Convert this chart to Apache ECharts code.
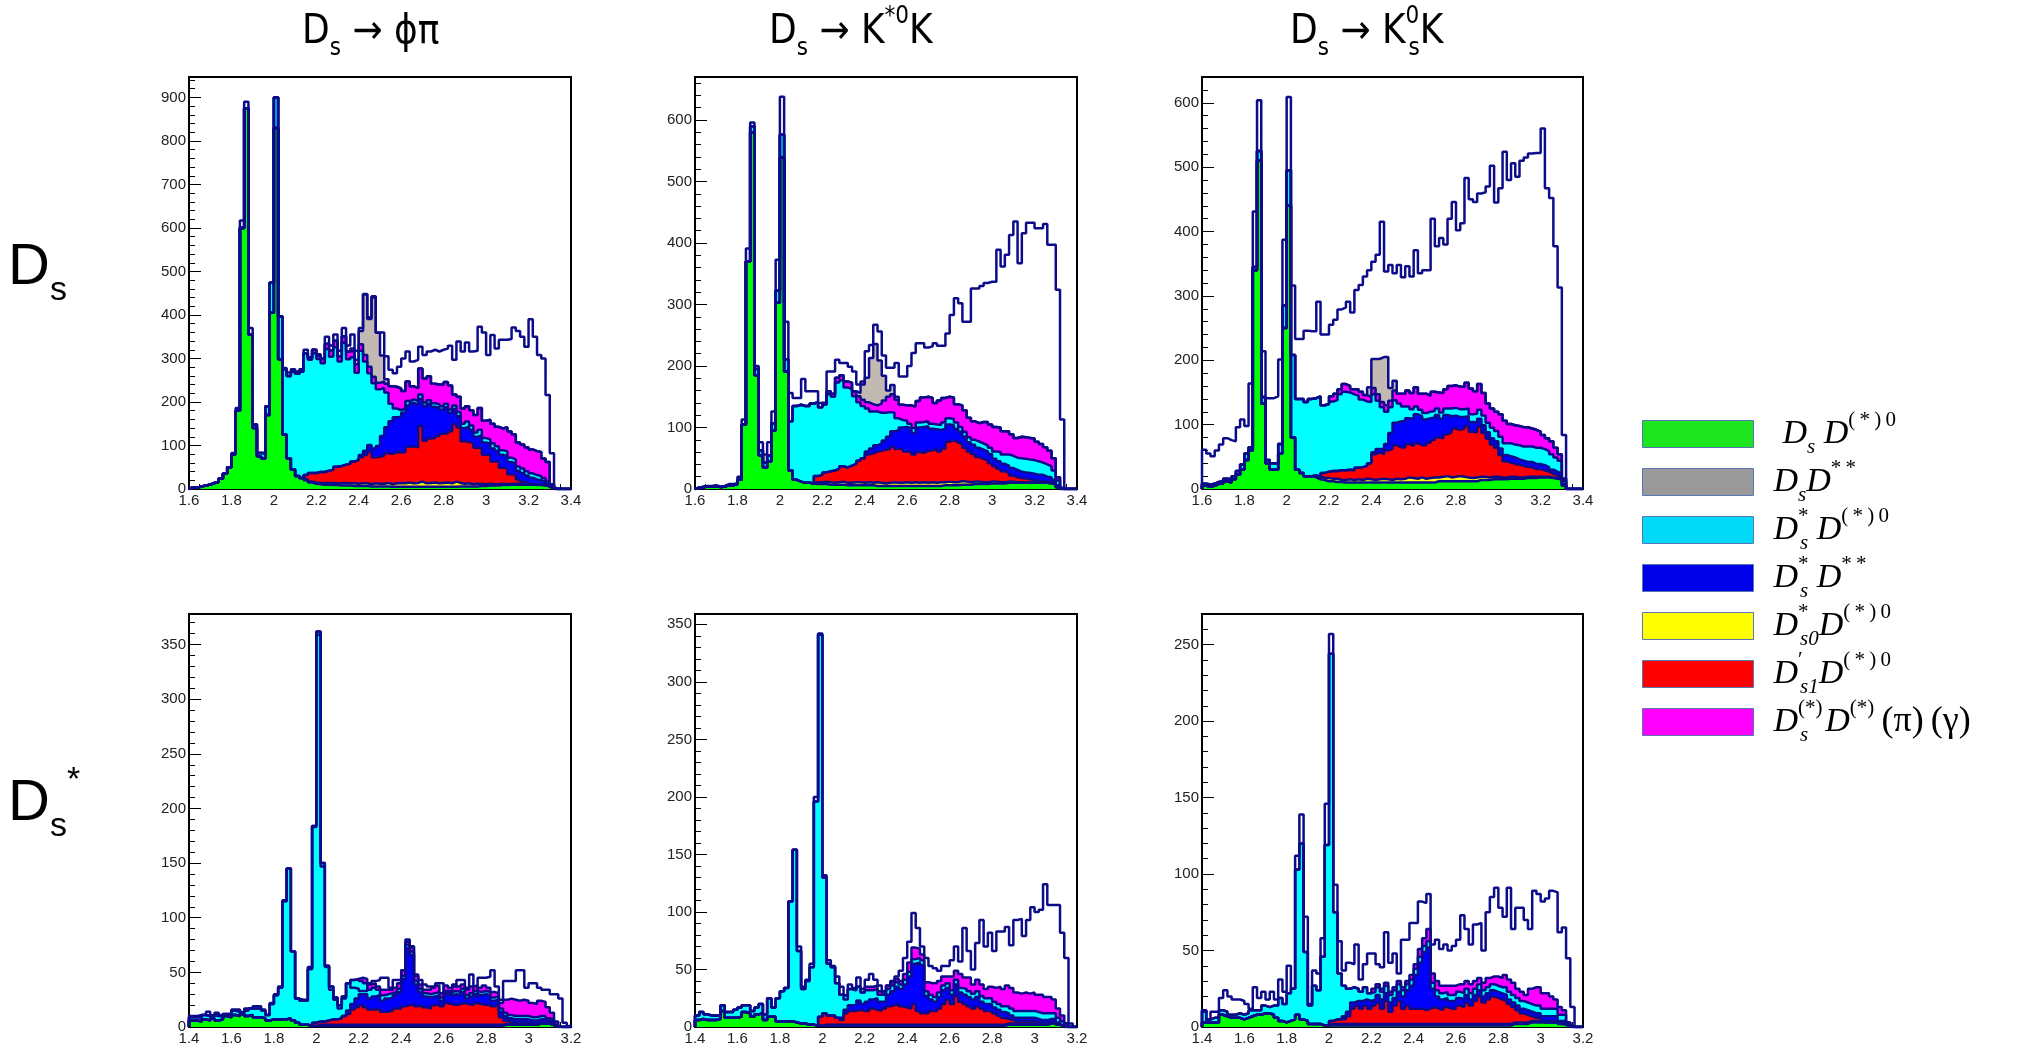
<!DOCTYPE html>
<html>
<head>
<meta charset="utf-8">
<script src="https://cdn.jsdelivr.net/npm/echarts@6/dist/echarts.min.js"></script>
<style>
html,body{margin:0;padding:0;background:#ffffff;}
#chart{width:2034px;height:1054px;}
</style>
</head>
<body>
<div id="chart"></div>
<script>
// ---------------- DATA (events per 0.02 bin) ----------------
// Panel 1: Ds -> phi pi, Ds tag (bins from 1.6 to 3.4)
const p1Green = [4,3,6,8,10,14,16,24,35,50, 80,180,600,875,355,140,75,70,170,405, 830,298,125,70,45,30,25,20,15,12, 11,10,10,9,9,8,8,8,7,7, 7,7,6,6,6,6,6,5,5,5, 5,5,5,5,5,5,5,5,5,5, 5,5,5,6,6,6,6,6,7,7, 8,8,8,9,9,10,10,10,10,10, 10,9,9,8,6,2,0,0,0,0];
const p1Yellow = [0,0,0,0,0,0,0,0,0,0, 0,0,0,0,0,0,0,0,0,0, 0,0,0,0,0,0,0,2,2,3, 3,4,4,5,4,5,6,5,6,5, 6,6,5,7,6,6,8,6,8,9, 8,10,8,9,12,8,9,10,8,9, 10,8,12,8,6,7,5,6,5,4, 4,3,3,3,2,2,2,2,2,1, 1,1,1,1,0,0,0,0,0,0];
const p1Red = [0,0,0,0,0,0,0,0,0,0, 0,0,0,0,0,0,0,0,0,0, 0,0,0,0,0,0,0,10,20,22, 25,25,28,30,38,40,42,45,50,55, 60,65,75,60,62,65,68,70,72,70, 72,82,85,82,128,98,102,102,109,113, 113,120,132,128,98,95,95,83,82,68, 67,52,52,37,36,22,21,10,5,2, 0,0,0,0,0,0,0,0,0,0];
const p1Blue = [0,0,0,0,0,0,0,0,0,0, 0,0,0,0,0,0,0,0,0,0, 0,0,0,0,0,0,0,0,0,0, 0,0,0,0,0,0,0,0,0,0, 5,10,15,20,25,45,60,75,80,82, 90,95,100,98,62,80,80,72,65,55, 60,42,35,25,30,35,30,25,30,28, 25,30,25,30,28,28,25,20,20,18, 15,12,10,8,5,2,0,0,0,0];
const p1Cyan = [0,0,0,0,0,0,0,0,0,0, 0,0,0,0,0,8,8,12,20,69, 70,99,150,190,225,235,245,280,260,275, 260,250,280,260,275,240,280,240,240,200, 240,205,165,150,130,110,80,40,20,15, 10,10,8,8,10,8,8,8,8,8, 8,8,8,10,10,12,10,10,12,10, 10,12,10,10,12,10,10,10,10,10, 10,10,10,8,6,2,0,0,0,0];
const p1Magenta = [0,0,0,0,0,0,0,0,0,0, 0,0,0,0,0,0,0,0,0,0, 0,0,0,0,0,0,0,0,5,8, 8,10,12,15,15,12,15,18,15,20, 15,15,15,15,15,15,20,40,50,50, 40,45,30,30,60,55,55,45,45,50, 50,55,25,35,35,35,35,40,50,40, 45,45,45,50,55,60,58,55,55,55, 55,55,55,45,45,5,0,0,0,0];
const p1Grey = [0,0,0,0,0,0,0,0,0,0, 0,0,0,0,0,0,0,0,0,0, 0,0,0,0,0,0,0,0,0,0, 0,0,0,0,0,0,0,0,5,10, 30,140,110,185,115,60,10,0,0,0, 0,0,0,0,0,0,0,0,0,0, 0,0,0,0,0,0,0,0,0,0, 0,0,0,0,0,0,0,0,0,0, 0,0,0,0,0,0,0,0,0,0];
const p1Total = [4,3,6,8,10,14,16,24,35,50, 83,186,617,890,370,148,83,83,190,474, 900,397,278,268,275,270,275,320,300,320, 310,300,350,330,355,318,370,330,355,318, 370,447,395,440,360,360,305,274,266,281, 300,316,293,297,327,308,316,320,316,320, 323,329,297,339,316,337,316,318,373,360, 308,354,323,343,343,345,371,363,350,327, 390,350,308,300,216,82,0,0,0,0];

// Panel 2: Ds -> K*0 K, Ds tag
const p2Green = [2,3,4,4,5,3,4,6,6,8, 15,105,370,580,185,55,35,45,95,303, 539,191,30,15,12,10,10,9,8,8, 8,7,7,7,7,6,6,6,6,6, 6,6,5,5,5,5,5,5,5,5, 5,5,5,5,5,5,5,5,6,6, 6,6,7,7,7,8,8,8,8,9, 9,9,9,10,10,10,10,10,10,10, 10,10,10,9,8,3,0,0,0,0];
const p2Yellow = [0,0,0,0,0,0,0,0,0,0, 0,0,0,0,0,0,0,0,0,0, 0,0,0,0,0,0,0,0,3,3, 4,4,3,4,5,4,4,5,5,4, 5,4,6,5,4,5,6,5,5,6, 5,6,5,6,5,6,5,6,5,6, 5,5,6,5,4,4,4,3,3,3, 3,2,2,2,2,1,1,1,1,1, 0,0,0,0,0,0,0,0,0,0];
const p2Red = [0,0,0,0,0,0,0,0,0,0, 0,0,0,0,0,0,0,0,0,0, 0,0,0,0,0,0,0,0,10,12, 15,18,20,22,25,25,28,30,35,40, 45,48,50,52,55,55,58,55,55,50, 50,45,50,48,52,52,55,50,55,65, 68,65,60,55,50,45,40,38,35,30, 25,22,18,14,10,8,7,6,5,4, 3,3,2,2,1,0,0,0,0,0];
const p2Blue = [0,0,0,0,0,0,0,0,0,0, 0,0,0,0,0,0,0,0,0,0, 0,0,0,0,0,0,0,0,0,0, 0,0,0,0,0,0,0,0,0,0, 5,8,10,12,15,20,25,30,35,40, 38,35,40,42,40,35,32,35,32,28, 25,22,20,18,15,15,15,15,15,15, 12,12,12,12,12,12,10,10,10,10, 10,10,8,8,6,3,0,0,0,0];
const p2Cyan = [0,0,0,0,0,0,0,0,0,0, 0,0,0,10,10,8,8,10,12,20, 37,20,80,120,125,125,125,130,120,110, 110,125,120,140,140,130,125,110,95,85, 70,60,55,50,45,40,30,20,12,10, 8,8,8,8,8,8,8,8,10,10, 10,10,8,8,8,8,10,10,10,10, 12,15,15,18,20,20,22,22,22,22, 22,20,20,18,15,8,0,0,0,0];
const p2Magenta = [0,0,0,0,0,0,0,0,0,0, 0,0,0,0,0,0,0,0,0,0, 0,0,0,0,0,0,0,0,0,0, 3,5,5,8,8,10,10,8,10,10, 10,12,10,15,20,25,30,30,25,25, 30,35,35,40,40,42,35,40,40,35, 35,30,35,35,32,30,30,35,38,38, 40,40,38,38,35,32,35,35,35,35, 32,30,28,25,20,5,0,0,0,0];
const p2Grey = [0,0,0,0,0,0,0,0,0,0, 0,0,0,0,0,0,0,0,0,0, 0,0,0,0,0,0,0,0,0,0, 0,0,0,0,0,0,0,0,5,30, 40,75,100,70,40,10,15,5,0,0, 0,0,0,0,0,0,0,0,0,0, 0,0,0,0,0,0,0,0,0,0, 0,0,0,0,0,0,0,0,0,0, 0,0,0,0,0,0,0,0,0,0];
const p2Total = [2,4,5,5,6,4,5,8,8,10, 20,113,391,596,200,76,56,76,126,373, 638,272,156,148,148,179,159,159,159,140, 140,191,191,210,205,205,199,191,170,170, 224,234,267,256,217,197,197,205,183,183, 200,221,237,237,230,232,237,233,233,253, 283,310,302,272,272,326,326,330,335,337, 337,389,362,381,413,435,367,416,433,433, 424,424,431,397,397,324,113,0,0,0];

// Panel 3: Ds -> K0s K, Ds tag
const p3Green = [5,4,5,8,8,12,10,15,22,30, 45,60,340,510,133,40,30,30,55,250, 440,80,30,25,20,20,18,15,14,12, 12,11,11,10,10,10,10,10,10,10, 10,10,10,10,10,10,10,10,10,10, 10,10,10,10,10,12,12,12,12,12, 12,12,12,12,12,14,14,14,15,15, 15,15,16,16,16,16,17,17,17,18, 18,18,17,16,15,5,0,0,0,0];
const p3Yellow = [0,0,0,0,0,0,0,0,0,0, 0,0,0,0,0,0,0,0,0,0, 0,0,0,0,0,0,3,4,3,5, 4,5,3,4,5,4,5,4,6,5, 4,5,6,5,4,6,5,6,8,7, 6,8,6,7,8,6,7,8,6,7, 8,7,6,5,6,5,5,4,4,4, 3,3,3,3,2,2,2,2,2,1, 1,1,1,1,1,1,0,0,0,0];
const p3Red = [0,0,0,0,0,0,0,0,0,0, 0,0,0,0,0,0,0,0,0,0, 0,0,0,0,0,0,0,0,8,10, 12,12,15,15,15,15,18,20,20,25, 40,42,38,45,48,52,50,48,52,50, 55,50,52,55,58,62,60,65,70,75, 72,75,80,72,70,78,68,60,50,45, 35,25,22,20,20,18,15,15,12,12, 10,8,6,4,3,0,0,0,0,0];
const p3Blue = [0,0,0,0,0,0,0,0,0,0, 0,0,0,0,0,0,0,0,0,0, 0,0,0,0,0,0,0,0,0,0, 0,0,0,0,0,0,0,0,0,0, 3,5,8,10,25,35,40,42,40,42, 45,45,40,38,35,35,30,30,25,20, 20,18,15,15,15,12,12,10,10,10, 10,10,10,10,8,8,8,8,8,8, 8,7,6,6,5,2,0,0,0,0];
const p3Cyan = [3,3,3,3,4,4,5,5,6,8, 10,5,5,15,10,5,10,10,15,35, 55,128,110,115,115,120,120,125,105,105, 108,110,118,122,120,118,112,105,100,95, 90,75,65,50,40,35,28,22,18,15, 12,10,10,10,10,10,10,10,12,12, 12,12,12,12,14,14,15,15,16,16, 18,18,20,20,22,22,24,24,25,25, 25,25,24,22,20,5,0,0,0,0];
const p3Magenta = [0,0,0,0,0,0,0,0,0,0, 0,0,0,0,0,0,0,0,0,0, 0,0,0,0,0,0,0,0,0,0, 8,10,8,12,10,8,10,12,10,8, 10,10,8,10,10,15,15,20,25,25, 30,25,30,25,30,25,30,30,35,35, 35,35,40,40,35,40,35,30,30,30, 35,35,30,30,30,30,30,28,28,25, 22,20,20,15,10,3,0,0,0,0];
const p3Grey = [0,0,0,0,0,0,0,0,0,0, 0,0,0,0,0,0,0,0,0,0, 0,0,0,0,0,0,0,0,0,0, 0,0,0,0,0,0,0,0,0,15, 45,55,70,75,20,15,0,0,0,0, 0,0,0,0,0,0,0,0,0,0, 0,0,0,0,0,0,0,0,0,0, 0,0,0,0,0,0,0,0,0,0, 0,0,0,0,0,0,0,0,0,0];
const p3Total = [61,55,51,60,69,79,76,74,96,108, 98,164,431,604,214,141,141,144,201,387, 609,316,233,233,246,245,245,291,240,240, 255,263,279,282,291,274,309,317,330,340, 353,364,415,338,348,335,348,329,346,330, 371,335,340,340,420,377,390,380,420,446, 402,413,483,450,446,459,461,470,502,445, 467,524,480,506,485,510,515,521,522,522, 560,467,452,377,313,84,0,0,0,0];

// Panel 4: Ds -> phi pi, Ds* tag (bins from 1.4 to 3.2)
const p4Green = [6,6,5,7,6,8,6,7,10,9, 11,10,12,10,11,9,9,8,6,7, 7,7,7,8,6,4,2,2,1,1, 1,1,1,1,1,1,1,1,1,1, 1,1,1,1,1,1,1,1,1,1, 1,1,1,1,1,1,1,1,1,1, 1,1,1,1,1,1,1,1,1,1, 1,1,1,1,2,2,2,2,2,2, 2,2,3,3,3,2,1,0,0,0];
const p4Yellow = [0,0,0,0,0,0,0,0,0,0, 0,0,0,0,0,0,0,0,0,0, 0,0,0,0,0,0,0,0,0,0, 1,1,1,1,1,1,1,1,1,1, 1,1,1,1,1,1,1,1,1,1, 1,1,1,1,1,1,1,1,1,1, 1,1,1,1,1,1,1,1,1,1, 1,1,1,1,1,1,1,1,1,1, 0,0,0,0,0,0,0,0,0,0];
const p4Red = [0,0,0,0,0,0,0,0,0,0, 0,0,0,0,0,0,0,0,0,0, 0,0,0,0,0,0,0,0,0,3, 3,3,4,5,5,6,8,10,14,16, 18,16,14,14,15,12,12,13,15,15, 17,18,19,17,18,16,15,18,19,17, 20,19,18,19,20,19,18,20,19,18, 19,17,18,7,3,2,1,1,1,1, 1,1,1,1,0,0,0,0,0,0];
const p4Blue = [0,0,0,0,0,0,0,0,0,0, 0,0,0,0,0,0,0,0,0,0, 0,0,0,0,0,0,0,0,0,0, 0,0,0,0,0,0,0,3,5,8, 10,12,10,12,12,10,12,12,12,15, 25,52,45,20,12,10,10,8,8,5, 8,8,10,8,10,5,8,8,8,10, 8,5,5,5,4,3,3,3,3,3, 3,3,3,3,3,3,0,0,0,0];
const p4Cyan = [3,3,4,4,4,3,4,3,2,3, 4,4,1,5,6,8,8,7,5,14, 22,29,108,137,63,22,22,22,52,180, 357,145,50,30,20,12,18,25,22,18, 12,10,8,8,5,5,4,4,3,3, 3,3,3,3,3,3,3,3,3,3, 3,3,3,3,3,3,3,3,3,3, 3,3,3,3,3,3,3,3,3,3, 3,3,3,3,2,2,1,0,0,0];
const p4Magenta = [0,0,0,0,0,0,0,0,0,0, 0,0,0,0,0,0,0,0,0,0, 0,0,0,0,0,0,0,0,0,0, 0,0,0,0,0,0,0,0,0,0, 3,4,5,4,3,5,4,3,4,5, 5,5,4,5,4,3,4,5,6,4, 5,4,6,5,4,5,6,5,4,5, 4,5,3,5,12,15,15,14,15,14, 13,12,14,13,10,6,3,0,0,0];
const p4Total = [10,10,11,11,14,10,13,11,11,12, 16,16,12,17,17,19,19,16,11,22, 30,37,116,145,69,26,25,25,55,183, 359,147,55,34,25,17,26,40,36,35, 33,33,40,42,43,45,45,36,43,43, 52,78,74,48,43,39,37,37,40,40, 31,31,37,43,43,36,48,28,45,45, 46,52,37,25,42,42,42,52,52,36, 40,40,36,34,34,30,30,26,4,1];

// Panel 5: Ds -> K*0 K, Ds* tag
const p5Green = [6,7,6,6,6,7,14,8,8,8, 9,13,12,9,11,12,6,9,9,5, 5,5,5,4,3,3,2,2,1,1, 1,1,1,1,1,1,1,1,1,1, 1,1,1,1,1,1,1,1,1,1, 1,1,1,1,1,1,1,1,1,1, 1,1,1,1,1,1,1,1,1,1, 1,1,1,2,2,2,2,2,2,2, 2,2,2,3,3,2,1,0,0,0];
const p5Yellow = [0,0,0,0,0,0,0,0,0,0, 0,0,0,0,0,0,0,0,0,0, 0,0,0,0,0,0,0,0,0,0, 1,1,1,1,1,1,1,1,1,1, 1,1,1,1,1,1,1,1,1,1, 1,1,1,1,1,1,1,1,1,1, 1,1,1,1,1,1,1,1,1,1, 1,1,1,1,1,1,1,1,1,1, 0,0,0,0,0,0,0,0,0,0];
const p5Red = [0,0,0,0,0,0,0,0,0,0, 0,0,0,0,0,0,0,0,0,0, 0,0,0,0,0,0,0,0,0,8, 10,8,8,6,4,10,12,12,13,12, 12,14,13,12,14,16,17,18,16,15, 14,18,12,10,10,12,12,14,18,22, 18,25,20,18,16,14,16,14,12,12, 10,8,6,4,3,2,2,2,2,2, 2,1,1,1,1,0,0,0,0,0];
const p5Blue = [0,0,0,0,0,0,0,0,0,0, 0,0,0,0,0,0,0,0,0,0, 0,0,0,0,0,0,0,0,0,0, 0,0,0,0,2,3,5,6,8,6, 8,8,10,8,6,10,12,15,15,20, 28,35,42,42,15,10,8,10,12,10, 8,10,8,8,8,8,8,6,6,6, 5,5,5,5,4,3,3,3,3,3, 3,3,3,3,3,2,1,0,0,0];
const p5Cyan = [4,6,5,4,4,3,5,5,5,7, 8,6,7,5,6,8,5,16,8,20, 26,29,104,150,63,30,38,50,195,332, 118,45,42,30,20,12,14,12,12,10, 10,8,8,6,6,5,5,4,4,4, 4,4,4,4,4,4,4,4,4,4, 4,4,4,5,5,5,5,5,5,5, 5,5,5,6,6,6,6,6,6,6, 6,6,6,5,5,4,3,0,0,0];
const p5Magenta = [0,0,0,0,0,0,0,0,0,0, 0,0,0,0,0,0,0,0,0,0, 0,0,0,0,0,0,0,0,0,0, 0,0,0,0,0,0,0,0,0,0, 3,3,3,3,3,3,3,3,3,5, 8,10,8,5,8,10,12,10,8,6, 12,8,12,10,12,8,10,10,8,10, 12,15,15,18,18,16,15,16,15,16, 15,16,14,14,12,8,5,3,0,0];
const p5Total = [10,13,11,10,10,10,19,13,13,15, 17,19,19,14,17,20,11,25,17,25, 31,34,109,154,70,35,41,55,200,342, 132,58,53,44,35,24,37,34,43,33, 41,46,41,36,30,36,40,44,49,60, 74,99,86,70,60,53,51,49,53,53, 58,70,57,86,66,50,73,93,70,82, 66,83,83,87,71,93,94,79,93,104, 100,102,124,106,106,106,82,60,3,0];

// Panel 6: Ds -> K0s K, Ds* tag
const p6Green = [3,3,3,3,8,7,6,6,6,5, 6,7,8,8,9,9,8,6,4,3, 4,5,8,5,4,2,2,2,1,1, 1,1,1,1,1,1,1,1,1,1, 1,1,1,1,1,1,1,1,1,1, 1,1,1,1,1,1,1,1,1,1, 1,1,1,1,1,1,1,1,1,1, 1,1,1,2,2,2,2,3,3,3, 3,3,3,3,2,2,1,0,0,0];
const p6Yellow = [0,0,0,0,0,0,0,0,0,0, 0,0,0,0,0,0,0,0,0,0, 0,0,0,0,0,0,0,0,0,0, 1,1,1,1,1,1,1,1,1,1, 1,1,1,1,1,1,1,1,1,1, 1,1,1,1,1,1,1,1,1,1, 1,1,1,1,1,1,1,1,1,1, 1,1,1,1,1,1,1,1,1,1, 0,0,0,0,0,0,0,0,0,0];
const p6Red = [0,0,0,0,0,0,0,0,0,0, 0,0,0,0,0,0,0,0,0,0, 0,0,0,0,0,0,0,0,0,0, 2,3,3,3,5,10,12,10,12,10, 12,14,10,15,8,12,15,10,12,10, 10,10,9,10,11,10,9,11,10,10, 12,11,14,12,15,18,14,16,18,17, 16,15,13,10,8,6,5,3,2,2, 1,1,1,1,0,0,0,0,0,0];
const p6Blue = [0,0,0,0,0,0,0,0,0,0, 0,0,0,0,0,0,0,0,0,0, 0,0,0,0,0,0,0,0,0,0, 0,0,0,2,3,4,3,5,4,5, 4,5,6,5,6,5,6,8,10,15, 22,30,38,40,12,8,7,6,5,5, 5,5,5,4,4,4,4,4,4,4, 4,4,3,3,3,3,3,3,3,3, 3,3,3,3,2,2,0,0,0,0];
const p6Cyan = [8,2,3,3,3,3,2,2,3,3, 3,4,3,3,5,4,6,8,15,12, 18,20,95,115,45,12,25,22,45,118, 240,70,30,20,15,10,8,6,8,5, 5,5,5,5,5,5,5,4,4,4, 4,4,4,4,4,4,4,4,4,4, 4,4,4,4,4,4,4,4,4,4, 4,5,5,5,5,5,5,5,5,5, 5,5,5,5,4,4,2,0,0,0];
const p6Magenta = [0,0,0,0,0,0,0,0,0,0, 0,0,0,0,0,0,0,0,0,0, 0,0,0,0,0,0,0,0,0,0, 0,0,0,0,0,0,0,0,0,0, 2,2,2,2,2,2,2,2,2,3, 3,5,5,8,6,6,5,4,6,6, 5,6,5,6,5,4,5,6,5,6, 6,8,8,8,6,6,5,10,12,12, 10,10,8,6,5,3,0,0,0,0];
const p6Total = [10,4,10,10,19,24,20,18,18,17, 15,12,26,19,23,18,23,18,31,23, 40,25,112,139,72,15,37,35,58,146, 257,93,56,37,42,41,54,31,41,48, 48,41,39,62,42,48,35,57,57,68, 68,82,81,87,54,57,51,54,50,53, 57,73,64,54,67,68,50,75,85,91, 78,72,91,64,78,78,70,64,89,87, 82,84,89,88,62,65,45,13,0,0];

// Column titles, row titles, legend entries
const columnTitles = ['{a|D}{b|s}{a| \u2192 \u03d5\u03c0}', '{a|D}{b|s}{a| \u2192 K}{c|*0}{a|K}', '{a|D}{b|s}{a| \u2192 K}{cz|0}{b|s}{a|K}'];
const rowTitles = ['{a|D}{b|s}', '{a|D}{b|s}{c|*}'];
const legendNames = ['DsD0', 'DsDss', 'DssD0', 'DssDss', 'Dss0D0', 'Ds1D0', 'DsDpg'];
const legendLabels = {
  DsD0:   '{g2|}{m|D}{sb|s}{m| D}{sp|(\u2009*\u2009)\u20090}',
  DsDss:  '{g|}{m|D}{sb|s}{m|D}{sp|*\u2009*}',
  DssD0:  '{g|}{m|D}{spz|*}{sb|s}{m| D}{sp|(\u2009*\u2009)\u20090}',
  DssDss: '{g|}{m|D}{spz|*}{sb|s}{m| D}{sp|*\u2009*}',
  Dss0D0: '{g|}{m|D}{spz|*}{sb|s0}{m|D}{sp|(\u2009*\u2009)\u20090}',
  Ds1D0:  '{g|}{m|D}{spz|\u2032}{sb|s1}{m|D}{sp|(\u2009*\u2009)\u20090}',
  DsDpg:  '{g|}{m|D}{spz|(*)}{sb|s}{m|  D}{sp|(*)}{r|\u2009(\u03c0)\u2009(\u03b3)}'
};

// ---------------- CHART ----------------
const BIN = 0.02;
const NAVY = '#0c0c8a';
const SANS = "'Liberation Sans', Arial, Helvetica, sans-serif";
const NARROW = "'Liberation Sans Narrow', 'Arial Narrow', 'DejaVu Sans Condensed', 'Liberation Sans', sans-serif";
const SERIF = "'Liberation Serif', 'Times New Roman', 'DejaVu Serif', serif";

// stacking order bottom -> top
const compDefs = [
  {key: 'green',   name: 'DsD0',   fill: '#00ff00', legend: '#1ee61e'},
  {key: 'yellow',  name: 'Dss0D0', fill: '#ffff00', legend: '#ffff00'},
  {key: 'red',     name: 'Ds1D0',  fill: '#ff0000', legend: '#ff0000'},
  {key: 'blue',    name: 'DssDss', fill: '#0000ff', legend: '#0000e8'},
  {key: 'cyan',    name: 'DssD0',  fill: '#00ffff', legend: '#00daf8'},
  {key: 'magenta', name: 'DsDpg',  fill: '#ff00ff', legend: '#ff00ff'},
  {key: 'grey',    name: 'DsDss',  fill: '#c2bab2', legend: '#9a9a9a'}
];

const panels = [
  {x0: 1.6, x1: 3.4, ymax: 947, yint: 100, grid: {left: 189, top: 77, width: 382, height: 412},
   comps: {green: p1Green, yellow: p1Yellow, red: p1Red, blue: p1Blue, cyan: p1Cyan, magenta: p1Magenta, grey: p1Grey}, total: p1Total},
  {x0: 1.6, x1: 3.4, ymax: 670, yint: 100, grid: {left: 695, top: 77, width: 382, height: 412},
   comps: {green: p2Green, yellow: p2Yellow, red: p2Red, blue: p2Blue, cyan: p2Cyan, magenta: p2Magenta, grey: p2Grey}, total: p2Total},
  {x0: 1.6, x1: 3.4, ymax: 640, yint: 100, grid: {left: 1202, top: 77, width: 381, height: 412},
   comps: {green: p3Green, yellow: p3Yellow, red: p3Red, blue: p3Blue, cyan: p3Cyan, magenta: p3Magenta, grey: p3Grey}, total: p3Total},
  {x0: 1.4, x1: 3.2, ymax: 378, yint: 50, grid: {left: 189, top: 614, width: 382, height: 413},
   comps: {green: p4Green, yellow: p4Yellow, red: p4Red, blue: p4Blue, cyan: p4Cyan, magenta: p4Magenta}, total: p4Total},
  {x0: 1.4, x1: 3.2, ymax: 359, yint: 50, grid: {left: 695, top: 614, width: 382, height: 413},
   comps: {green: p5Green, yellow: p5Yellow, red: p5Red, blue: p5Blue, cyan: p5Cyan, magenta: p5Magenta}, total: p5Total},
  {x0: 1.4, x1: 3.2, ymax: 270, yint: 50, grid: {left: 1202, top: 614, width: 381, height: 413},
   comps: {green: p6Green, yellow: p6Yellow, red: p6Red, blue: p6Blue, cyan: p6Cyan, magenta: p6Magenta}, total: p6Total}
];

function histPoints(x0, vals) {
  const pts = [[x0, 0]];
  vals.forEach((v, i) => pts.push([+(x0 + i * BIN).toFixed(2), v]));
  pts.push([+(x0 + vals.length * BIN).toFixed(2), 0]);
  return pts;
}

const grids = [], xAxes = [], yAxes = [], series = [];
panels.forEach((p, k) => {
  grids.push(Object.assign({show: true, borderColor: '#000', borderWidth: 2, backgroundColor: 'transparent', containLabel: false, outerBoundsMode: 'none'}, p.grid));
  xAxes.push({
    gridIndex: k, type: 'value', min: p.x0, max: p.x1, interval: 0.2,
    axisLine: {show: true, onZero: false, lineStyle: {color: '#000', width: 2}},
    axisTick: {show: true, inside: true, length: 9, lineStyle: {color: '#000', width: 1}},
    minorTick: {show: true, splitNumber: 4, length: 5, lineStyle: {color: '#000', width: 1}},
    axisLabel: {show: true, fontFamily: SANS, fontSize: 15, color: '#222', margin: 4, showMinLabel: true, showMaxLabel: true,
      formatter: v => String(+(+v).toFixed(1))},
    splitLine: {show: false}, minorSplitLine: {show: false}
  });
  yAxes.push({
    gridIndex: k, type: 'value', min: 0, max: p.ymax, interval: p.yint,
    axisLine: {show: true, onZero: false, lineStyle: {color: '#000', width: 2}},
    axisTick: {show: true, inside: true, length: 12, lineStyle: {color: '#000', width: 1}},
    minorTick: {show: true, splitNumber: 5, length: 6, lineStyle: {color: '#000', width: 1}},
    axisLabel: {show: true, fontFamily: SANS, fontSize: 15, color: '#222', margin: 3, showMinLabel: true,
      formatter: v => (Math.abs(v % p.yint) < 1e-6 ? String(Math.round(v)) : '')},
    splitLine: {show: false}, minorSplitLine: {show: false}
  });
  const present = compDefs.filter(c => p.comps[c.key]);
  // cumulative stack tops (bottom component first)
  const cums = [];
  let run = p.comps[present[0].key].map(() => 0);
  present.forEach(c => { run = run.map((v, i) => v + p.comps[c.key][i]); cums.push(run); });
  // filled areas, painted from the top of the stack downward
  for (let j = present.length - 1; j >= 0; j--) {
    const c = present[j];
    series.push({
      type: 'line', name: c.name, xAxisIndex: k, yAxisIndex: k, step: 'end',
      symbol: 'none', showSymbol: false, silent: true, z: 10 + (present.length - j),
      data: histPoints(p.x0, cums[j]),
      itemStyle: {color: c.fill}, lineStyle: {width: 0, opacity: 0},
      areaStyle: {color: c.fill, opacity: 1, origin: 'start'}, emphasis: {disabled: true}
    });
  }
  // navy outline of each stack level
  present.forEach((c, j) => {
    series.push({
      type: 'line', name: c.name, xAxisIndex: k, yAxisIndex: k, step: 'end',
      symbol: 'none', showSymbol: false, silent: true, z: 30,
      data: histPoints(p.x0, cums[j]),
      itemStyle: {color: c.fill}, lineStyle: {color: NAVY, width: 2.5}, emphasis: {disabled: true}
    });
  });
  // total (open histogram)
  series.push({
    type: 'line', name: 'Total', xAxisIndex: k, yAxisIndex: k, step: 'end',
    symbol: 'none', showSymbol: false, silent: true, z: 31,
    data: histPoints(p.x0, p.total),
    itemStyle: {color: NAVY}, lineStyle: {color: NAVY, width: 2.5}, emphasis: {disabled: true}
  });
});

const titleRich = {
  a: {fontFamily: NARROW, fontWeight: 'normal', fontSize: 40, color: '#000', lineHeight: 56},
  b: {fontFamily: NARROW, fontWeight: 'normal', fontSize: 24, color: '#000', lineHeight: 30, verticalAlign: 'bottom'},
  c: {fontFamily: NARROW, fontWeight: 'normal', fontSize: 24, color: '#000', lineHeight: 34, verticalAlign: 'top'},
  cz: {fontFamily: NARROW, fontWeight: 'normal', fontSize: 24, color: '#000', lineHeight: 34, verticalAlign: 'top', width: 3}
};
const rowRich = {
  a: {fontFamily: SANS, fontWeight: 'normal', fontSize: 58, color: '#000', lineHeight: 80},
  b: {fontFamily: SANS, fontWeight: 'normal', fontSize: 34, color: '#000', lineHeight: 36, verticalAlign: 'bottom'},
  c: {fontFamily: SANS, fontWeight: 'normal', fontSize: 34, color: '#000', lineHeight: 44, verticalAlign: 'top'}
};
const tStyle = rich => ({fontWeight: 'normal', color: '#000', rich: rich});
const titles = [
  {text: columnTitles[0], left: 302, top: 5, padding: 0, textStyle: tStyle(titleRich)},
  {text: columnTitles[1], left: 769, top: 5, padding: 0, textStyle: tStyle(titleRich)},
  {text: columnTitles[2], left: 1290, top: 5, padding: 0, textStyle: tStyle(titleRich)},
  {text: rowTitles[0], left: 8, top: 228, padding: 0, textStyle: tStyle(rowRich)},
  {text: rowTitles[1], left: 8, top: 764, padding: 0, textStyle: tStyle(rowRich)}
];

const option = {
  animation: false,
  backgroundColor: '#ffffff',
  textStyle: {fontFamily: SANS},
  title: titles,
  grid: grids,
  xAxis: xAxes,
  yAxis: yAxes,
  legend: {
    orient: 'vertical', left: 1642, top: 410, padding: 0,
    itemWidth: 111, itemHeight: 27, itemGap: 0, icon: 'rect',
    itemStyle: {borderColor: '#5677b4', borderWidth: 1},
    data: legendNames.map(n => ({name: n, icon: 'rect', itemStyle: {color: compDefs.find(c => c.name === n).legend, borderColor: '#5677b4', borderWidth: 1}})),
    formatter: n => legendLabels[n],
    textStyle: {
      color: '#000',
      rich: {
        g: {width: 15}, g2: {width: 24},
        m: {fontFamily: SERIF, fontStyle: 'italic', fontSize: 34, lineHeight: 48, color: '#000'},
        sb: {fontFamily: SERIF, fontStyle: 'italic', fontSize: 21, lineHeight: 18, verticalAlign: 'bottom', color: '#000'},
        sp: {fontFamily: SERIF, fontSize: 21, lineHeight: 26, verticalAlign: 'top', color: '#000'},
        spz: {fontFamily: SERIF, fontSize: 21, lineHeight: 26, verticalAlign: 'top', width: 2, color: '#000'},
        r: {fontFamily: SERIF, fontSize: 36, lineHeight: 48, color: '#000'}
      }
    }
  },
  series: series
};

const chart = echarts.init(document.getElementById('chart'), null, {renderer: 'canvas'});
chart.setOption(option);
</script>
</body>
</html>
